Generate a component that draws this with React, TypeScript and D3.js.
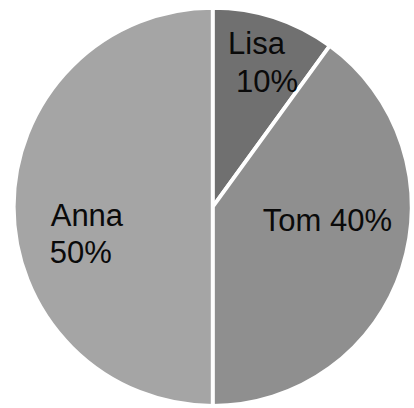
import React from "react";
import * as d3 from "d3";

const names = ["Lisa", "Tom", "Anna"];
const values = [10, 40, 50];
const colors = ["#707070", "#8f8f8f", "#a5a5a5"];

const W = 414;
const H = 408;
const CX = 212.7;
const CY = 206.8;
const R = 199;
const LABEL_R = 150;

// per-line label layout relative to the slice's label centroid
const labelLayout: { text: (n: string, p: string) => string; dx: number; dy: number; anchor: string }[][] = [
  [
    { text: (n) => n, dx: -2.5, dy: -10, anchor: "middle" },
    { text: (_n, p) => p, dx: 8, dy: 28, anchor: "middle" },
  ],
  [{ text: (n, p) => `${n} ${p}`, dx: -28, dy: -22, anchor: "middle" }],
  [
    { text: (n) => n, dx: -12, dy: 19.5, anchor: "start" },
    { text: (_n, p) => p, dx: -13, dy: 56, anchor: "start" },
  ],
];

export default function App() {
  const total = d3.sum(values);
  const pie = d3.pie<number>().sort(null).value((d) => d);
  const arcs = pie(values);
  const arc = d3.arc<d3.PieArcDatum<number>>().innerRadius(0).outerRadius(R);
  const labelArc = d3.arc<d3.PieArcDatum<number>>().innerRadius(LABEL_R).outerRadius(LABEL_R);
  const fmt = d3.format(".0%");

  return (
    <svg
      width={W}
      height={H}
      style={{ position: "absolute", left: 0, top: 0, background: "#fff" }}
    >
      <g transform={`translate(${CX},${CY})`}>
        {arcs.map((a, i) => (
          <path key={names[i]} d={arc(a) || ""} fill={colors[i]} stroke="#fff" strokeWidth={3.8} strokeLinejoin="miter" />
        ))}
        {arcs.map((a, i) => {
          const [x, y] = labelArc.centroid(a);
          const pct = fmt(values[i] / total);
          return labelLayout[i].map((l, j) => (
            <text
              key={`${names[i]}-${j}`}
              x={x + l.dx}
              y={y + l.dy}
              textAnchor={l.anchor}
              fontFamily="'Liberation Sans', Arial, sans-serif"
              fontSize={31}
              fill="#0a0a0a"
            >
              {l.text(names[i], pct)}
            </text>
          ));
        })}
      </g>
    </svg>
  );
}
